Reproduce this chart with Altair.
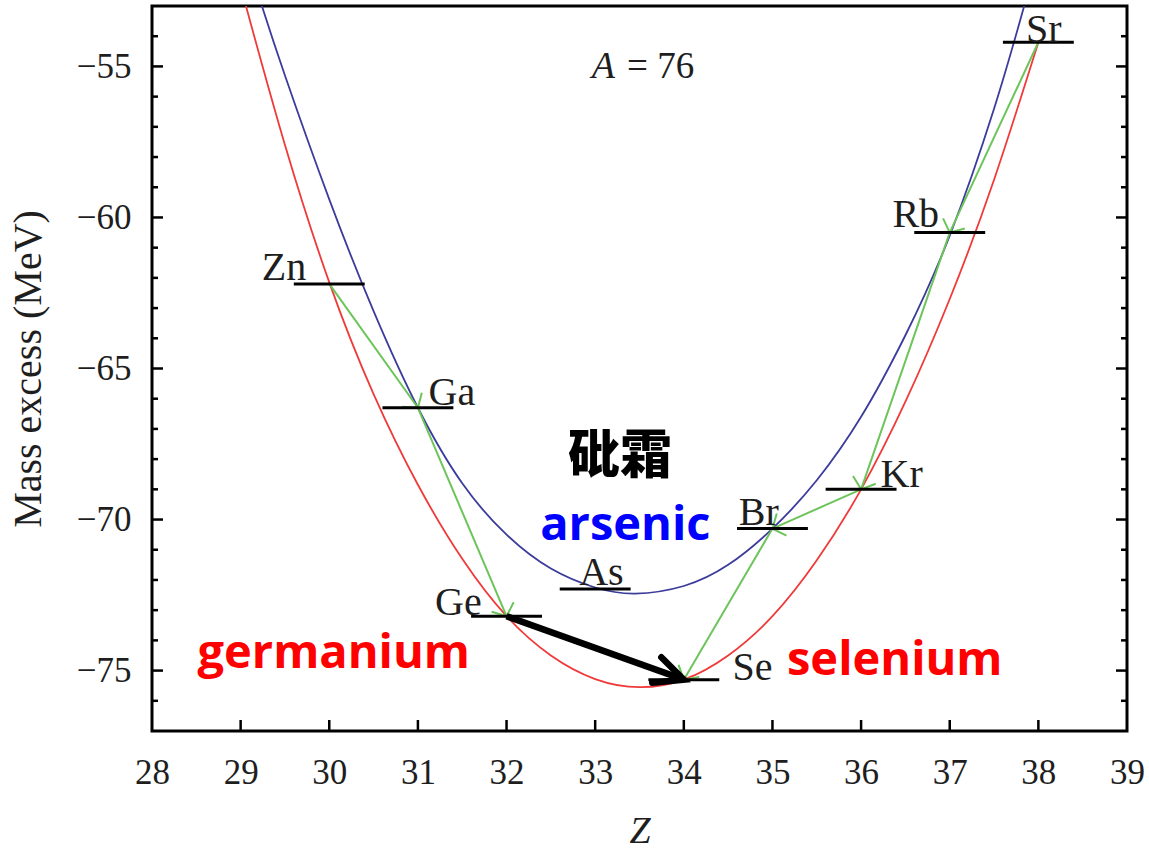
import math
import altair as alt
import pandas as pd

# ---- isobar A = 76: measured mass excess of each nuclide (MeV) ----
elements = ["Zn", "Ga", "Ge", "As", "Se", "Br", "Kr", "Rb", "Sr"]
z_values = [30, 31, 32, 33, 34, 35, 36, 37, 38]
mass_excess = [-62.2, -66.3, -73.2, -72.3, -75.3, -70.3, -69.0, -60.5, -54.2]

# even-even mass parabola (red)
even_z = [29.06, 29.5, 30.0, 30.5, 31.0, 31.5, 32.0, 32.5, 33.0, 33.5,
          34.0, 34.5, 35.0, 35.5, 36.0, 36.5, 37.0, 37.5, 38.0]
even_m = [-53.0, -57.6, -62.15, -65.85, -68.85, -71.3, -73.2, -74.5, -75.28, -75.55,
          -75.3, -74.5, -73.2, -71.35, -69.0, -66.1, -62.7, -58.75, -54.2]

# odd-odd mass parabola (blue)
odd_z = [29.24, 29.5, 30.0, 30.5, 31.0, 31.5, 32.0, 32.5, 33.0, 33.45,
         34.0, 34.5, 35.0, 35.5, 36.0, 36.5, 37.0, 37.5, 37.84]
odd_m = [-53.0, -55.3, -59.4, -63.1, -66.3, -68.8, -70.5, -71.62, -72.25, -72.45,
         -72.2, -71.5, -70.3, -68.7, -66.6, -63.9, -60.6, -56.4, -53.0]

# single beta decays (green) and the double beta decay (black)
decay_from = ["Zn", "Ga", "Sr", "Rb", "Kr", "Br"]
decay_to = ["Ga", "Ge", "Rb", "Kr", "Br", "Se"]
double_from = ["Ge"]
double_to = ["Se"]

# element name placement (Z, baseline in MeV); "end" = text ends at Z
label_z = [29.74, 31.12, 31.72, 32.82, 34.55, 34.62, 36.22, 36.88, 37.86]
label_m = [-62.07, -66.21, -73.16, -72.17, -75.31, -70.18, -68.92, -60.32, -54.19]
label_anchor = ["end", "start", "end", "start", "start", "start", "start", "end", "start"]

# axis ticks
x_ticks = list(range(29, 39))
x_labels = list(range(28, 40))
y_major = [-55, -60, -65, -70, -75]
y_minor = [v for v in range(-54, -77, -1) if v not in y_major]

# ---- layout / style ----
X_DOMAIN = [28, 39]
Y_DOMAIN = [-77, -53]
W, H = 975, 725
BAR_HALF = 0.4
SERIF = "Liberation Serif"
SANS = "Open Sans"
INK = "#1e1e1e"
RED = "#f03a3a"
BLUE = "#3c3c9c"
GREEN = "#6cc45a"

KX = W / (X_DOMAIN[1] - X_DOMAIN[0])
KY = H / (Y_DOMAIN[1] - Y_DOMAIN[0])


def heading(z1, m1, z2, m2):
    """Screen rotation (deg, clockwise from up) of the segment z1,m1 -> z2,m2."""
    dx = (z2 - z1) * KX
    dy = -(m2 - m1) * KY
    return math.degrees(math.atan2(dx, -dy)) % 360


xs = alt.Scale(domain=X_DOMAIN, nice=False, zero=False)
ys = alt.Scale(domain=Y_DOMAIN, nice=False, zero=False)

x_axis = alt.Axis(values=x_labels, title="Z", titleFont=SERIF, titleFontSize=38,
                  titleFontStyle="italic", titleFontWeight="normal", titleColor=INK,
                  titlePadding=22, labelFont=SERIF, labelFontSize=35, labelColor=INK,
                  labelPadding=24, labelFlush=False, labelOverlap=False,
                  ticks=False, domain=False, grid=False)
y_axis = alt.Axis(values=y_major, title="Mass excess (MeV)", titleFont=SERIF,
                  titleFontSize=40, titleFontWeight="normal", titleColor=INK,
                  titlePadding=28, labelFont=SERIF, labelFontSize=35, labelColor=INK,
                  labelPadding=21, labelFlush=False, labelOverlap=False,
                  ticks=False, domain=False, grid=False)


def X(field):
    return alt.X(field, type="quantitative", scale=xs, axis=x_axis)


def Y(field):
    return alt.Y(field, type="quantitative", scale=ys, axis=y_axis)


# ---- data tables ----
levels = pd.DataFrame({"el": elements, "z": z_values, "m": mass_excess})
levels["lo"] = levels["z"] - BAR_HALF
levels["hi"] = levels["z"] + BAR_HALF
pos = {e: (z, m) for e, z, m in zip(elements, z_values, mass_excess)}

even_df = pd.DataFrame({"z": even_z, "m": even_m})
odd_df = pd.DataFrame({"z": odd_z, "m": odd_m})


def arrows(src, dst):
    rows = []
    for a, b in zip(src, dst):
        z1, m1 = pos[a]
        z2, m2 = pos[b]
        rows.append({"z": z1, "m": m1, "z2": z2, "m2": m2,
                     "ang": heading(z1, m1, z2, m2)})
    return pd.DataFrame(rows)


green_df = arrows(decay_from, decay_to)
black_df = arrows(double_from, double_to)

labels = pd.DataFrame({"el": elements, "z": label_z, "m": label_m, "anchor": label_anchor})

# ---- layers ----
even_line = alt.Chart(even_df).mark_line(color=RED, strokeWidth=1.8, interpolate="natural",
                                         clip=True).encode(x=X("z"), y=Y("m"))
odd_line = alt.Chart(odd_df).mark_line(color=BLUE, strokeWidth=1.8, interpolate="natural",
                                       clip=True).encode(x=X("z"), y=Y("m"))

green_shafts = alt.Chart(green_df).mark_rule(color=GREEN, strokeWidth=2).encode(
    x=X("z"), y=Y("m"), x2="z2:Q", y2="m2:Q")
green_heads = alt.Chart(green_df).mark_point(
    shape="M-1.2,1L0,0L1.2,1", filled=False, color=GREEN, strokeWidth=2,
    size=400, opacity=1).encode(x=X("z2"), y=Y("m2"), angle=alt.Angle("ang:Q", scale=None))

bars = alt.Chart(levels).mark_rule(color="black", strokeWidth=3).encode(
    x=X("lo"), x2="hi:Q", y=Y("m"))

black_shaft = alt.Chart(black_df).mark_rule(color="black", strokeWidth=6.5).encode(
    x=X("z"), y=Y("m"), x2="z2:Q", y2="m2:Q")
black_head = alt.Chart(black_df).mark_point(
    shape="M-0.47,1L0,0L0.47,1", filled=False, color="black", strokeWidth=6.5,
    size=3300, opacity=1, strokeCap="round").encode(
    x=X("z2"), y=Y("m2"), angle=alt.Angle("ang:Q", scale=None))

name_style = dict(font=SERIF, fontSize=40, color=INK, baseline="alphabetic")
names_end = alt.Chart(labels).transform_filter(alt.datum.anchor == "end").mark_text(
    align="right", **name_style).encode(x=X("z"), y=Y("m"), text="el:N")
names_start = alt.Chart(labels).transform_filter(alt.datum.anchor == "start").mark_text(
    align="left", **name_style).encode(x=X("z"), y=Y("m"), text="el:N")

# annotations
notes = pd.DataFrame({
    "txt": ["arsenic", "germanium", "selenium"],
    "z": [33.34, 30.05, 36.38],
    "m": [-70.68, -74.91, -75.14],
    "col": ["#0000ff", "#ff0000", "#ff0000"],
})
note_text = alt.Chart(notes).mark_text(
    font=SANS, fontSize=47, fontWeight="bold", align="center", baseline="alphabetic").encode(
    x=X("z"), y=Y("m"), text="txt:N", color=alt.Color("col:N", scale=None))

cn = pd.DataFrame({"txt": ["砒霜"], "z": [33.28], "m": [-67.93]})
cn_text = alt.Chart(cn).mark_text(
    font="Noto Sans CJK SC", fontSize=52, fontWeight=900, color="black",
    align="center", baseline="middle").encode(x=X("z"), y=Y("m"), text="txt:N")

a_df = pd.DataFrame({"txt": ["A"], "z": [32.96], "m": [-55.38]})
a_text = alt.Chart(a_df).mark_text(
    font=SERIF, fontSize=38, fontStyle="italic", color=INK, align="left",
    baseline="alphabetic").encode(x=X("z"), y=Y("m"), text="txt:N")
eq_df = pd.DataFrame({"txt": ["= 76"], "z": [33.36], "m": [-55.38]})
eq_text = alt.Chart(eq_df).mark_text(
    font=SERIF, fontSize=37, color=INK, align="left",
    baseline="alphabetic").encode(x=X("z"), y=Y("m"), text="txt:N")

# inward tick marks on left, right and bottom frame edges
ymaj = pd.DataFrame({"m": y_major})
ymin = pd.DataFrame({"m": y_minor})
xt = pd.DataFrame({"z": x_ticks})
tick_style = dict(color="black", strokeWidth=2.5)
left_major = alt.Chart(ymaj).mark_rule(**tick_style).encode(
    y=Y("m"), x=alt.value(0), x2=alt.value(11))
left_minor = alt.Chart(ymin).mark_rule(**tick_style).encode(
    y=Y("m"), x=alt.value(0), x2=alt.value(6))
right_major = alt.Chart(ymaj).mark_rule(**tick_style).encode(
    y=Y("m"), x=alt.value(W - 11), x2=alt.value(W))
right_minor = alt.Chart(ymin).mark_rule(**tick_style).encode(
    y=Y("m"), x=alt.value(W - 6), x2=alt.value(W))
bottom_ticks = alt.Chart(xt).mark_rule(**tick_style).encode(
    x=X("z"), y=alt.value(H - 11), y2=alt.value(H))

chart = alt.layer(
    even_line, odd_line, green_shafts, green_heads, bars, black_shaft, black_head,
    names_end, names_start, note_text, cn_text, a_text, eq_text,
    left_major, left_minor, right_major, right_minor, bottom_ticks,
).properties(
    width=W, height=H,
    autosize=alt.AutoSizeParams(type="none"),
    padding={"left": 152, "top": 6, "right": 22, "bottom": 119},
    background="white",
).configure_view(stroke="black", strokeWidth=3)

chart.save("out.html", embed_options={"renderer": "svg", "actions": False})
